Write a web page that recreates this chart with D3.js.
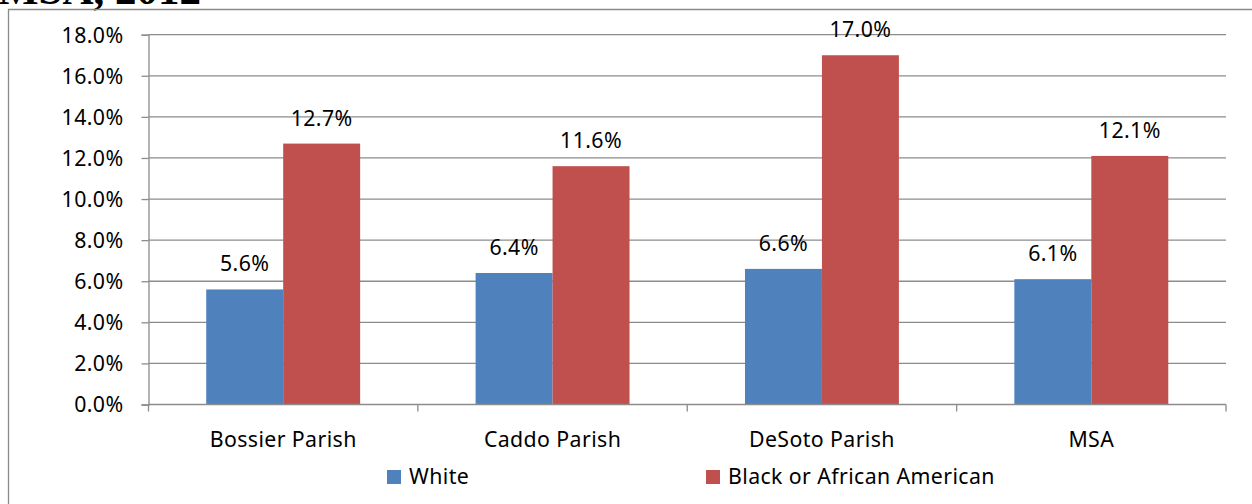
<!DOCTYPE html>
<html><head><meta charset="utf-8">
<script src="https://cdn.jsdelivr.net/npm/d3@7"></script>
<style>body{margin:0;background:#fff}svg{display:block}</style>
</head><body>
<svg id="c" width="1252" height="504"></svg>
<script>
const categories = ["Bossier Parish","Caddo Parish","DeSoto Parish","MSA"];
const seriesNames = ["White","Black or African American"];
const whiteValues = [5.6, 6.4, 6.6, 6.1];
const blackValues = [12.7, 11.6, 17.0, 12.1];
const yTicks = [0,2,4,6,8,10,12,14,16,18];
const colors = ["#4F81BD","#C0504D"];

(function(){
const svg = d3.select("#c");
const font = "'Noto Sans', 'Open Sans', sans-serif";
const fs = 21.3, ls = 0.4;
const pLeft = 148.5, pRight = 1226, pTop = 34.7, pBottom = 404.5;

// title fragment (cut off at top, as in the reference)
svg.append("text").attr("x", -2).attr("y", 4).attr("font-family","'Liberation Serif', serif")
  .attr("font-size", 43).attr("font-weight","bold").attr("fill","#000").text("MSA, 2012");

// frame
svg.append("path").attr("d", `M8.5,504 V9.5 H1252`).attr("fill","none").attr("stroke","#8a8a8a").attr("stroke-width",1.3);

const x = d3.scaleBand().domain(categories).range([pLeft, pRight]).paddingInner(0).paddingOuter(0);
const xs = d3.scaleBand().domain(seriesNames).range([0, x.bandwidth()]).paddingInner(0).paddingOuter(0.75);
const y = d3.scaleLinear().domain([0,18]).range([pBottom, pTop]);

// gridlines
svg.append("g").selectAll("line").data(yTicks.filter(d=>d>0)).join("line")
  .attr("x1", pLeft).attr("x2", pRight).attr("y1", d=>y(d)).attr("y2", d=>y(d))
  .attr("stroke","#8c8c8c").attr("stroke-width",1.3);

// y axis
const yAxis = svg.append("g").attr("transform",`translate(${pLeft},0)`)
  .call(d3.axisLeft(y).tickValues(yTicks).tickFormat(d=>d.toFixed(1)+"%").tickSize(7).tickPadding(18));
yAxis.select(".domain").attr("stroke","#8c8c8c").attr("stroke-width",1.3);
yAxis.selectAll(".tick line").attr("stroke","#8c8c8c").attr("stroke-width",1.3);
yAxis.selectAll("text").attr("font-family",font).attr("font-size",fs).attr("letter-spacing",ls).attr("fill","#000").attr("dy","0.35em");

// bars
const data = categories.map((c,i)=>({cat:c, vals:[whiteValues[i], blackValues[i]]}));
const groups = svg.append("g").selectAll("g").data(data).join("g")
  .attr("transform", d=>`translate(${x(d.cat)},0)`);
groups.selectAll("rect").data(d=>d.vals.map((v,j)=>({v, s:seriesNames[j], j}))).join("rect")
  .attr("x", d=>xs(d.s)).attr("width", xs.bandwidth())
  .attr("y", d=>y(d.v)).attr("height", d=>pBottom - y(d.v))
  .attr("fill", d=>colors[d.j]);
groups.selectAll("text").data(d=>d.vals.map((v,j)=>({v, s:seriesNames[j], j}))).join("text")
  .attr("x", d=>xs(d.s)+xs.bandwidth()/2).attr("y", d=>y(d.v)-18)
  .attr("text-anchor","middle").attr("font-family",font).attr("font-size",fs).attr("letter-spacing",ls).attr("fill","#000")
  .text(d=>d.v.toFixed(1)+"%");

// x axis
const xAxis = svg.append("g").attr("transform",`translate(0,${pBottom})`)
  .call(d3.axisBottom(x).tickSize(0).tickPadding(27));
xAxis.select(".domain").remove();
xAxis.selectAll("text").attr("font-family",font).attr("font-size",fs).attr("letter-spacing",ls).attr("fill","#000");
svg.append("line").attr("x1",pLeft).attr("x2",pRight).attr("y1",pBottom).attr("y2",pBottom).attr("stroke","#8c8c8c").attr("stroke-width",1.3);
svg.append("g").selectAll("line").data(d3.range(categories.length+1)).join("line")
  .attr("x1", i=>pLeft + i*x.bandwidth()).attr("x2", i=>pLeft + i*x.bandwidth())
  .attr("y1", pBottom).attr("y2", pBottom+7).attr("stroke","#8c8c8c").attr("stroke-width",1.3);

// legend
const legX = [387, 706];
const leg = svg.append("g").selectAll("g").data(seriesNames).join("g")
  .attr("transform",(d,i)=>`translate(${legX[i]},470)`);
leg.append("rect").attr("width",14).attr("height",14).attr("fill",(d,i)=>colors[i]);
leg.append("text").attr("x",22).attr("y",13.5).attr("font-family",font).attr("font-size",fs).attr("letter-spacing",ls).attr("fill","#000").text(d=>d);
})();
</script>
</body></html>
